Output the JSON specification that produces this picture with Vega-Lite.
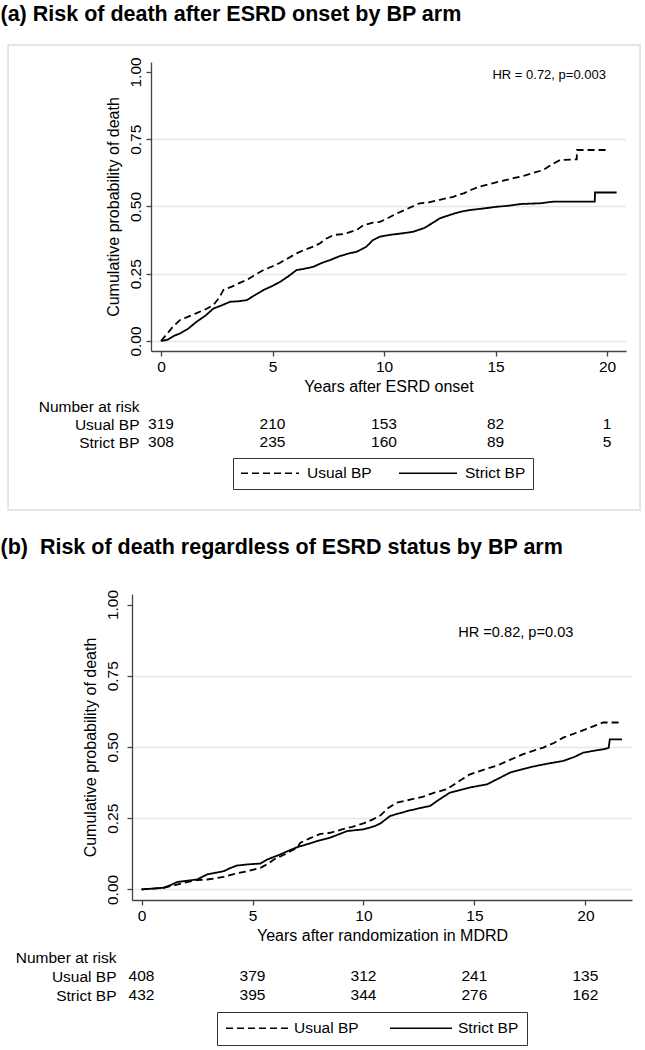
{
  "$schema": "https://vega.github.io/schema/vega-lite/v6.json",
  "padding": {"left": 0, "top": 3, "right": 0, "bottom": 0},
  "background": "white",
  "config": {
    "font": "Liberation Sans",
    "view": {"stroke": null},
    "axis": {"labelFont": "Liberation Sans", "titleFont": "Liberation Sans", "labelColor": "black", "titleColor": "black", "domainColor": "#444", "tickColor": "#444", "domainWidth": 1.3, "tickWidth": 1.3, "labelFontSize": 15.5, "titleFontSize": 16, "titleFontWeight": "normal", "tickSize": 5},
    "legend": {"labelFont": "Liberation Sans", "labelColor": "black"}
  },
  "datasets": {
    "curvesA": [
      {"arm": "Usual BP", "t": 0, "p": 0}, {"arm": "Usual BP", "t": 0.2, "p": 0.02}, {"arm": "Usual BP", "t": 0.5, "p": 0.05}, {"arm": "Usual BP", "t": 0.85, "p": 0.078}, {"arm": "Usual BP", "t": 1.2, "p": 0.09}, {"arm": "Usual BP", "t": 1.6, "p": 0.104}, {"arm": "Usual BP", "t": 2.0, "p": 0.118}, {"arm": "Usual BP", "t": 2.35, "p": 0.134}, {"arm": "Usual BP", "t": 2.6, "p": 0.16}, {"arm": "Usual BP", "t": 2.8, "p": 0.19}, {"arm": "Usual BP", "t": 3.2, "p": 0.203}, {"arm": "Usual BP", "t": 3.5, "p": 0.215}, {"arm": "Usual BP", "t": 3.84, "p": 0.227}, {"arm": "Usual BP", "t": 4.2, "p": 0.245}, {"arm": "Usual BP", "t": 4.6, "p": 0.264}, {"arm": "Usual BP", "t": 5.0, "p": 0.278}, {"arm": "Usual BP", "t": 5.34, "p": 0.291}, {"arm": "Usual BP", "t": 5.7, "p": 0.308}, {"arm": "Usual BP", "t": 6.08, "p": 0.326}, {"arm": "Usual BP", "t": 6.4, "p": 0.338}, {"arm": "Usual BP", "t": 6.83, "p": 0.351}, {"arm": "Usual BP", "t": 7.1, "p": 0.362}, {"arm": "Usual BP", "t": 7.4, "p": 0.38}, {"arm": "Usual BP", "t": 7.73, "p": 0.394}, {"arm": "Usual BP", "t": 8.2, "p": 0.398}, {"arm": "Usual BP", "t": 8.78, "p": 0.413}, {"arm": "Usual BP", "t": 9.07, "p": 0.43}, {"arm": "Usual BP", "t": 9.5, "p": 0.44}, {"arm": "Usual BP", "t": 9.82, "p": 0.443}, {"arm": "Usual BP", "t": 10.2, "p": 0.458}, {"arm": "Usual BP", "t": 10.57, "p": 0.474}, {"arm": "Usual BP", "t": 11.0, "p": 0.49}, {"arm": "Usual BP", "t": 11.6, "p": 0.512}, {"arm": "Usual BP", "t": 12.0, "p": 0.515}, {"arm": "Usual BP", "t": 12.5, "p": 0.525}, {"arm": "Usual BP", "t": 13.1, "p": 0.536}, {"arm": "Usual BP", "t": 13.6, "p": 0.55}, {"arm": "Usual BP", "t": 14.0, "p": 0.565}, {"arm": "Usual BP", "t": 14.3, "p": 0.574}, {"arm": "Usual BP", "t": 14.8, "p": 0.585}, {"arm": "Usual BP", "t": 15.3, "p": 0.595}, {"arm": "Usual BP", "t": 15.8, "p": 0.605}, {"arm": "Usual BP", "t": 16.3, "p": 0.615}, {"arm": "Usual BP", "t": 16.7, "p": 0.625}, {"arm": "Usual BP", "t": 17.15, "p": 0.636}, {"arm": "Usual BP", "t": 17.5, "p": 0.655}, {"arm": "Usual BP", "t": 17.9, "p": 0.673}, {"arm": "Usual BP", "t": 18.64, "p": 0.675}, {"arm": "Usual BP", "t": 18.65, "p": 0.71}, {"arm": "Usual BP", "t": 19.98, "p": 0.71},
      {"arm": "Strict BP", "t": 0, "p": 0}, {"arm": "Strict BP", "t": 0.3, "p": 0.005}, {"arm": "Strict BP", "t": 0.6, "p": 0.02}, {"arm": "Strict BP", "t": 0.85, "p": 0.028}, {"arm": "Strict BP", "t": 1.2, "p": 0.045}, {"arm": "Strict BP", "t": 1.6, "p": 0.072}, {"arm": "Strict BP", "t": 2.0, "p": 0.095}, {"arm": "Strict BP", "t": 2.35, "p": 0.121}, {"arm": "Strict BP", "t": 2.7, "p": 0.132}, {"arm": "Strict BP", "t": 3.1, "p": 0.146}, {"arm": "Strict BP", "t": 3.5, "p": 0.148}, {"arm": "Strict BP", "t": 3.84, "p": 0.152}, {"arm": "Strict BP", "t": 4.2, "p": 0.17}, {"arm": "Strict BP", "t": 4.6, "p": 0.19}, {"arm": "Strict BP", "t": 5.0, "p": 0.205}, {"arm": "Strict BP", "t": 5.34, "p": 0.22}, {"arm": "Strict BP", "t": 5.7, "p": 0.24}, {"arm": "Strict BP", "t": 6.08, "p": 0.264}, {"arm": "Strict BP", "t": 6.4, "p": 0.268}, {"arm": "Strict BP", "t": 6.83, "p": 0.276}, {"arm": "Strict BP", "t": 7.2, "p": 0.29}, {"arm": "Strict BP", "t": 7.58, "p": 0.301}, {"arm": "Strict BP", "t": 8.0, "p": 0.315}, {"arm": "Strict BP", "t": 8.4, "p": 0.325}, {"arm": "Strict BP", "t": 8.78, "p": 0.332}, {"arm": "Strict BP", "t": 9.2, "p": 0.35}, {"arm": "Strict BP", "t": 9.5, "p": 0.375}, {"arm": "Strict BP", "t": 9.82, "p": 0.388}, {"arm": "Strict BP", "t": 10.3, "p": 0.395}, {"arm": "Strict BP", "t": 10.8, "p": 0.4}, {"arm": "Strict BP", "t": 11.3, "p": 0.406}, {"arm": "Strict BP", "t": 11.8, "p": 0.42}, {"arm": "Strict BP", "t": 12.2, "p": 0.44}, {"arm": "Strict BP", "t": 12.5, "p": 0.456}, {"arm": "Strict BP", "t": 13.0, "p": 0.47}, {"arm": "Strict BP", "t": 13.4, "p": 0.48}, {"arm": "Strict BP", "t": 13.86, "p": 0.487}, {"arm": "Strict BP", "t": 14.4, "p": 0.492}, {"arm": "Strict BP", "t": 15.05, "p": 0.499}, {"arm": "Strict BP", "t": 15.6, "p": 0.503}, {"arm": "Strict BP", "t": 16.1, "p": 0.509}, {"arm": "Strict BP", "t": 17.0, "p": 0.512}, {"arm": "Strict BP", "t": 17.6, "p": 0.518}, {"arm": "Strict BP", "t": 19.45, "p": 0.518}, {"arm": "Strict BP", "t": 19.46, "p": 0.552}, {"arm": "Strict BP", "t": 20.43, "p": 0.552}
    ],
    "curvesB": [
      {"arm": "Usual BP", "t": 0, "p": 0}, {"arm": "Usual BP", "t": 0.5, "p": 0.003}, {"arm": "Usual BP", "t": 1.0, "p": 0.006}, {"arm": "Usual BP", "t": 1.5, "p": 0.015}, {"arm": "Usual BP", "t": 2.0, "p": 0.025}, {"arm": "Usual BP", "t": 2.5, "p": 0.033}, {"arm": "Usual BP", "t": 2.96, "p": 0.035}, {"arm": "Usual BP", "t": 3.4, "p": 0.04}, {"arm": "Usual BP", "t": 3.7, "p": 0.044}, {"arm": "Usual BP", "t": 4.2, "p": 0.055}, {"arm": "Usual BP", "t": 4.76, "p": 0.064}, {"arm": "Usual BP", "t": 5.36, "p": 0.076}, {"arm": "Usual BP", "t": 5.7, "p": 0.09}, {"arm": "Usual BP", "t": 5.96, "p": 0.105}, {"arm": "Usual BP", "t": 6.5, "p": 0.125}, {"arm": "Usual BP", "t": 7.0, "p": 0.146}, {"arm": "Usual BP", "t": 7.16, "p": 0.164}, {"arm": "Usual BP", "t": 7.6, "p": 0.18}, {"arm": "Usual BP", "t": 8.06, "p": 0.195}, {"arm": "Usual BP", "t": 8.5, "p": 0.199}, {"arm": "Usual BP", "t": 9.0, "p": 0.21}, {"arm": "Usual BP", "t": 9.5, "p": 0.22}, {"arm": "Usual BP", "t": 10.0, "p": 0.232}, {"arm": "Usual BP", "t": 10.4, "p": 0.245}, {"arm": "Usual BP", "t": 10.77, "p": 0.26}, {"arm": "Usual BP", "t": 11.1, "p": 0.285}, {"arm": "Usual BP", "t": 11.5, "p": 0.305}, {"arm": "Usual BP", "t": 12.1, "p": 0.315}, {"arm": "Usual BP", "t": 12.7, "p": 0.326}, {"arm": "Usual BP", "t": 13.2, "p": 0.34}, {"arm": "Usual BP", "t": 13.77, "p": 0.352}, {"arm": "Usual BP", "t": 14.3, "p": 0.38}, {"arm": "Usual BP", "t": 14.8, "p": 0.404}, {"arm": "Usual BP", "t": 15.4, "p": 0.42}, {"arm": "Usual BP", "t": 16.0, "p": 0.434}, {"arm": "Usual BP", "t": 16.6, "p": 0.455}, {"arm": "Usual BP", "t": 17.2, "p": 0.475}, {"arm": "Usual BP", "t": 17.7, "p": 0.488}, {"arm": "Usual BP", "t": 18.1, "p": 0.498}, {"arm": "Usual BP", "t": 18.6, "p": 0.515}, {"arm": "Usual BP", "t": 19.0, "p": 0.533}, {"arm": "Usual BP", "t": 19.6, "p": 0.55}, {"arm": "Usual BP", "t": 20.2, "p": 0.568}, {"arm": "Usual BP", "t": 20.8, "p": 0.586}, {"arm": "Usual BP", "t": 21.58, "p": 0.586},
      {"arm": "Strict BP", "t": 0, "p": 0}, {"arm": "Strict BP", "t": 0.5, "p": 0.003}, {"arm": "Strict BP", "t": 1.0, "p": 0.006}, {"arm": "Strict BP", "t": 1.3, "p": 0.015}, {"arm": "Strict BP", "t": 1.6, "p": 0.026}, {"arm": "Strict BP", "t": 2.0, "p": 0.03}, {"arm": "Strict BP", "t": 2.5, "p": 0.035}, {"arm": "Strict BP", "t": 2.96, "p": 0.053}, {"arm": "Strict BP", "t": 3.3, "p": 0.058}, {"arm": "Strict BP", "t": 3.7, "p": 0.064}, {"arm": "Strict BP", "t": 4.0, "p": 0.075}, {"arm": "Strict BP", "t": 4.3, "p": 0.084}, {"arm": "Strict BP", "t": 4.8, "p": 0.088}, {"arm": "Strict BP", "t": 5.36, "p": 0.091}, {"arm": "Strict BP", "t": 5.66, "p": 0.105}, {"arm": "Strict BP", "t": 6.26, "p": 0.123}, {"arm": "Strict BP", "t": 6.6, "p": 0.135}, {"arm": "Strict BP", "t": 7.0, "p": 0.148}, {"arm": "Strict BP", "t": 7.6, "p": 0.162}, {"arm": "Strict BP", "t": 8.0, "p": 0.172}, {"arm": "Strict BP", "t": 8.5, "p": 0.182}, {"arm": "Strict BP", "t": 9.27, "p": 0.205}, {"arm": "Strict BP", "t": 10.0, "p": 0.211}, {"arm": "Strict BP", "t": 10.5, "p": 0.222}, {"arm": "Strict BP", "t": 10.77, "p": 0.232}, {"arm": "Strict BP", "t": 11.2, "p": 0.258}, {"arm": "Strict BP", "t": 11.97, "p": 0.275}, {"arm": "Strict BP", "t": 12.5, "p": 0.285}, {"arm": "Strict BP", "t": 13.0, "p": 0.293}, {"arm": "Strict BP", "t": 13.4, "p": 0.315}, {"arm": "Strict BP", "t": 13.9, "p": 0.34}, {"arm": "Strict BP", "t": 14.4, "p": 0.35}, {"arm": "Strict BP", "t": 14.8, "p": 0.358}, {"arm": "Strict BP", "t": 15.57, "p": 0.369}, {"arm": "Strict BP", "t": 16.1, "p": 0.39}, {"arm": "Strict BP", "t": 16.6, "p": 0.41}, {"arm": "Strict BP", "t": 17.2, "p": 0.423}, {"arm": "Strict BP", "t": 17.8, "p": 0.434}, {"arm": "Strict BP", "t": 18.4, "p": 0.443}, {"arm": "Strict BP", "t": 19.0, "p": 0.451}, {"arm": "Strict BP", "t": 19.5, "p": 0.465}, {"arm": "Strict BP", "t": 19.9, "p": 0.48}, {"arm": "Strict BP", "t": 20.4, "p": 0.487}, {"arm": "Strict BP", "t": 20.8, "p": 0.492}, {"arm": "Strict BP", "t": 21.05, "p": 0.497}, {"arm": "Strict BP", "t": 21.1, "p": 0.527}, {"arm": "Strict BP", "t": 21.65, "p": 0.527}
    ],
    "riskA": [
      {"arm": "Usual BP", "t": 0, "n": 319}, {"arm": "Usual BP", "t": 5, "n": 210}, {"arm": "Usual BP", "t": 10, "n": 153}, {"arm": "Usual BP", "t": 15, "n": 82}, {"arm": "Usual BP", "t": 20, "n": 1},
      {"arm": "Strict BP", "t": 0, "n": 308}, {"arm": "Strict BP", "t": 5, "n": 235}, {"arm": "Strict BP", "t": 10, "n": 160}, {"arm": "Strict BP", "t": 15, "n": 89}, {"arm": "Strict BP", "t": 20, "n": 5}
    ],
    "riskB": [
      {"arm": "Usual BP", "t": 0, "n": 408}, {"arm": "Usual BP", "t": 5, "n": 379}, {"arm": "Usual BP", "t": 10, "n": 312}, {"arm": "Usual BP", "t": 15, "n": 241}, {"arm": "Usual BP", "t": 20, "n": 135},
      {"arm": "Strict BP", "t": 0, "n": 432}, {"arm": "Strict BP", "t": 5, "n": 395}, {"arm": "Strict BP", "t": 10, "n": 344}, {"arm": "Strict BP", "t": 15, "n": 276}, {"arm": "Strict BP", "t": 20, "n": 162}
    ],
    "hrA": [{"label": "HR = 0.72, p=0.003"}],
    "hrB": [{"label": "HR =0.82, p=0.03"}],
    "frame": [{"part": "frame"}],
    "spacer": []
  },
  "spacing": 25,
  "resolve": {"scale": {"strokeDash": "independent"}, "legend": {"strokeDash": "independent"}},
  "vconcat": [
    {
      "bounds": "flush",
      "spacing": 0,
      "resolve": {"scale": {"strokeDash": "independent"}, "legend": {"strokeDash": "independent"}},
      "hconcat": [
        {
          "width": 19,
          "height": 10,
          "data": {"name": "spacer"},
          "mark": {"type": "point", "opacity": 0}
        },
        {
          "bounds": "flush",
          "spacing": 46,
          "resolve": {"scale": {"strokeDash": "independent"}, "legend": {"strokeDash": "independent"}},
          "vconcat": [
            {
              "width": 475,
              "height": 289,
              "resolve": {"axis": {"x": "independent"}},
              "layer": [
                {
                  "data": {"name": "frame"},
                  "mark": {"type": "rect", "filled": false, "color": "#dedede", "strokeWidth": 1.5},
                  "encoding": {
                    "x": {"datum": -6.86, "type": "quantitative", "scale": {"domain": [-0.45, 20.85], "nice": false, "zero": false}, "axis": null},
                    "x2": {"datum": 21.48},
                    "y": {"datum": 1.1, "type": "quantitative"},
                    "y2": {"datum": -0.628}
                  }
                },
                {
                  "data": {"name": "curvesA"},
                  "mark": {"type": "line", "interpolate": "linear", "color": "black", "strokeWidth": 1.8},
                  "encoding": {
                    "x": {"field": "t", "type": "quantitative", "scale": {"domain": [-0.45, 20.85], "nice": false, "zero": false}, "axis": {"orient": "bottom", "values": [0, 5, 10, 15, 20], "title": "Years after ESRD onset", "grid": false, "labelPadding": 3, "titlePadding": 4}},
                    "y": {"field": "p", "type": "quantitative", "scale": {"domain": [-0.037, 1.037], "nice": false, "zero": false}, "axis": {"values": [0, 0.25, 0.5, 0.75, 1], "format": ".2f", "title": "Cumulative probability of death", "labelAngle": -90, "labelAlign": "center", "labelBaseline": "bottom", "labelPadding": 3, "titlePadding": 7, "grid": true, "gridColor": {"condition": {"test": "datum.value === 1", "value": "transparent"}, "value": "#e6e6e6"}, "gridWidth": 1.5}},
                    "strokeDash": {"field": "arm", "type": "nominal", "scale": {"domain": ["Usual BP", "Strict BP"], "range": [[7, 4], [1, 0]]},
                      "legend": {"orient": "none", "legendX": 82, "legendY": 396, "direction": "horizontal", "title": null, "strokeColor": "#333", "fillColor": "white", "padding": 7, "clipHeight": 16, "symbolType": "stroke", "symbolSize": 3364, "symbolStrokeWidth": 1.5, "symbolStrokeColor": "black", "labelFontSize": 15.5, "labelOffset": 7, "columnPadding": 26}}
                  }
                },
                {
                  "data": {"name": "hrA"},
                  "mark": {"type": "text", "align": "right", "baseline": "middle", "fontSize": 13, "color": "black"},
                  "encoding": {
                    "x": {"datum": 19.95, "type": "quantitative", "axis": {"orient": "top", "domain": false, "ticks": false, "labels": false, "grid": false, "title": "(a) Risk of death after ESRD onset by BP arm", "titleX": -151, "titleY": -48, "titleAlign": "left", "titleBaseline": "middle", "titleAngle": 0, "titleFontSize": 21.5, "titleFontWeight": "bold"}},
                    "y": {"datum": 0.989, "type": "quantitative"},
                    "text": {"field": "label", "type": "nominal"}
                  }
                }
              ]
            },
            {
              "width": 475,
              "height": 54,
              "data": {"name": "riskA"},
              "mark": {"type": "text", "fontSize": 15.5, "color": "black", "baseline": "middle"},
              "encoding": {
                "x": {"field": "t", "type": "quantitative", "scale": {"domain": [-0.45, 20.85], "nice": false, "zero": false}, "axis": null},
                "y": {"field": "arm", "type": "nominal", "scale": {"type": "point", "domain": ["Number at risk", "Usual BP", "Strict BP"], "padding": 0.5}, "axis": {"title": null, "domain": false, "ticks": false, "tickSize": 0, "labelPadding": 12, "labelFontSize": 15.5, "grid": false}},
                "text": {"field": "n", "type": "quantitative", "format": "d"}
              }
            }
          ]
        }
      ]
    },
    {
      "bounds": "flush",
      "spacing": 47.5,
      "resolve": {"scale": {"strokeDash": "independent"}, "legend": {"strokeDash": "independent"}},
      "vconcat": [
        {
          "width": 500,
          "height": 306,
          "resolve": {"axis": {"x": "independent"}},
          "layer": [
            {
              "data": {"name": "curvesB"},
              "mark": {"type": "line", "interpolate": "linear", "color": "black", "strokeWidth": 1.8},
              "encoding": {
                "x": {"field": "t", "type": "quantitative", "scale": {"domain": [-0.43, 22.1], "nice": false, "zero": false}, "axis": {"orient": "bottom", "values": [0, 5, 10, 15, 20], "title": "Years after randomization in MDRD", "grid": false, "labelPadding": 3, "titlePadding": 4}},
                "y": {"field": "p", "type": "quantitative", "scale": {"domain": [-0.037, 1.037], "nice": false, "zero": false}, "axis": {"values": [0, 0.25, 0.5, 0.75, 1], "format": ".2f", "title": "Cumulative probability of death", "labelAngle": -90, "labelAlign": "center", "labelBaseline": "bottom", "labelPadding": 7, "titlePadding": 7, "grid": true, "gridColor": {"condition": {"test": "datum.value === 1", "value": "transparent"}, "value": "#e6e6e6"}, "gridWidth": 1.5}},
                "strokeDash": {"field": "arm", "type": "nominal", "scale": {"domain": ["Usual BP", "Strict BP"], "range": [[7, 4], [1, 0]]},
                  "legend": {"orient": "none", "legendX": 85, "legendY": 418, "direction": "horizontal", "title": null, "strokeColor": "#333", "fillColor": "white", "padding": 8, "clipHeight": 16, "symbolType": "stroke", "symbolSize": 3844, "symbolStrokeWidth": 1.5, "symbolStrokeColor": "black", "labelFontSize": 15.5, "labelOffset": 5, "columnPadding": 30}}
              }
            },
            {
              "data": {"name": "hrB"},
              "mark": {"type": "text", "align": "right", "baseline": "middle", "fontSize": 14.6, "color": "black"},
              "encoding": {
                "x": {"datum": 19.46, "type": "quantitative", "axis": {"orient": "top", "domain": false, "ticks": false, "labels": false, "grid": false, "title": "(b)\u00a0 Risk of death regardless of ESRD status by BP arm", "titleX": -132, "titleY": -47, "titleAlign": "left", "titleBaseline": "middle", "titleAngle": 0, "titleFontSize": 21.5, "titleFontWeight": "bold"}},
                "y": {"datum": 0.9, "type": "quantitative"},
                "text": {"field": "label", "type": "nominal"}
              }
            }
          ]
        },
        {
          "width": 500,
          "height": 57,
          "data": {"name": "riskB"},
          "mark": {"type": "text", "fontSize": 15.5, "color": "black", "baseline": "middle"},
          "encoding": {
            "x": {"field": "t", "type": "quantitative", "scale": {"domain": [-0.43, 22.1], "nice": false, "zero": false}, "axis": null},
            "y": {"field": "arm", "type": "nominal", "scale": {"type": "point", "domain": ["Number at risk", "Usual BP", "Strict BP"], "padding": 0.5}, "axis": {"title": null, "domain": false, "ticks": false, "tickSize": 0, "labelPadding": 16, "labelFontSize": 15.5, "grid": false}},
            "text": {"field": "n", "type": "quantitative", "format": "d"}
          }
        }
      ]
    }
  ]
}
